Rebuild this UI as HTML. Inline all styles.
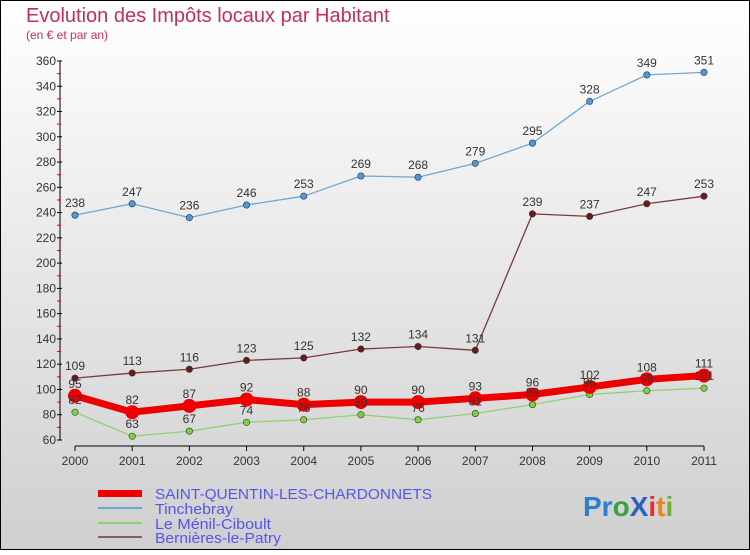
<!DOCTYPE html>
<html><head><meta charset="utf-8"><style>
html,body{margin:0;padding:0;}
body{width:750px;height:550px;overflow:hidden;font-family:"Liberation Sans",sans-serif;}
</style></head><body>
<svg id="chart" width="750" height="550" xmlns="http://www.w3.org/2000/svg" font-family="Liberation Sans, sans-serif">
<defs><linearGradient id="bg" x1="0" y1="0" x2="0" y2="1"><stop offset="0" stop-color="#ffffff"/><stop offset="1" stop-color="#cfcfcf"/></linearGradient></defs>
<rect x="0.5" y="0.5" width="749" height="549" fill="url(#bg)" stroke="#000"/>
<text x="26" y="22" font-size="20" fill="#c0305a">Evolution des Impôts locaux par Habitant</text>
<text x="26" y="39" font-size="12" fill="#c0305a">(en € et par an)</text>
<g id="axes"></g><g id="series"></g><g id="labels"></g>
<g font-size="15" fill="#5555ee">
<rect x="98" y="490" width="44" height="7" fill="#ee0000"/>
<text x="155" y="499" textLength="277" lengthAdjust="spacingAndGlyphs">SAINT-QUENTIN-LES-CHARDONNETS</text>
<rect x="98" y="507" width="44" height="2" fill="#6fa8d0"/>
<text x="155" y="514" textLength="78" lengthAdjust="spacingAndGlyphs">Tinchebray</text>
<rect x="98" y="522" width="44" height="2" fill="#90d070"/>
<text x="155" y="529" textLength="116" lengthAdjust="spacingAndGlyphs">Le Ménil-Ciboult</text>
<rect x="98" y="536" width="44" height="2" fill="#8a5a5a"/>
<text x="155" y="543" textLength="126" lengthAdjust="spacingAndGlyphs">Bernières-le-Patry</text>
</g>
<g font-size="28" font-weight="bold">
<text x="583" y="516"><tspan fill="#2a7fd0">Pr</tspan><tspan fill="#3aa040">o</tspan><tspan fill="#2a60c0">X</tspan><tspan fill="#e03030">i</tspan><tspan fill="#f08020">t</tspan><tspan fill="#70b030">i</tspan></text>
</g>
</svg>
<script>
const years=["2000","2001","2002","2003","2004","2005","2006","2007","2008","2009","2010","2011"];
const yTicks=[60,80,100,120,140,160,180,200,220,240,260,280,300,320,340,360];
const stQuentin=[95,82,87,92,88,90,90,93,96,102,108,111];
const tinchebray=[238,247,236,246,253,269,268,279,295,328,349,351];
const menil=[82,63,67,74,76,80,76,81,88,96,99,101];
const bernieres=[109,113,116,123,125,132,134,131,239,237,247,253];
const NS="http://www.w3.org/2000/svg";
function X(i){return 75+i*(704-75)/11;}
function Y(v){return 440-(v-60)*(440-61)/300;}
function mk(tag,attrs,parent,txt){const e=document.createElementNS(NS,tag);for(const k in attrs)e.setAttribute(k,attrs[k]);if(txt!==undefined)e.textContent=txt;parent.appendChild(e);return e;}
const ax=document.getElementById('axes');
let a=mk('line',{x1:60,y1:61,x2:60,y2:440,stroke:'#000'},ax);


a=mk('line',{x1:75,y1:446,x2:704,y2:446,stroke:'#000'},ax);


yTicks.forEach((v,i)=>{
 const t=mk('text',{x:56,y:Y(v)+4,'font-size':12,fill:'#333','text-anchor':'end'},ax,String(v));
 
 
 mk('line',{x1:57,y1:Y(v),x2:62,y2:Y(v),stroke:'#000'},ax);
 if(i<yTicks.length-1){mk('line',{x1:57,y1:Y(v+10),x2:61,y2:Y(v+10),stroke:'#e00000'},ax);}
});
years.forEach((y,i)=>{
 mk('line',{x1:X(i),y1:446,x2:X(i),y2:451,stroke:'#000'},ax);
 const t=mk('text',{x:X(i),y:465,'font-size':12,fill:'#333','text-anchor':'middle'},ax,y);
 
 
});
const sg=document.getElementById('series'),lg=document.getElementById('labels');
function draw(data,name,color,dot,w,r){
 const g=mk('g',{},sg);
 
 
 const p=mk('polyline',{points:data.map((v,i)=>X(i)+','+Y(v)).join(' '),fill:'none',stroke:color,'stroke-width':w,'stroke-linejoin':'round'},g);
 
 
 data.forEach((v,i)=>{
  const c=mk('circle',{cx:X(i),cy:Y(v),r:r,fill:dot,stroke:'#333','stroke-width':r>5?0:0.6},g);
  
  
  const t=mk('text',{x:X(i),y:Y(v)-8,'font-size':12,fill:'#333','text-anchor':'middle'},lg,String(v));
  
  
 });
}
draw(tinchebray,'tinchebray','#6fa8d0','#4a9ae0',1.3,3.2);
draw(bernieres,'bernieres','#7a3a3a','#6a1a1a',1.3,3.2);
draw(menil,'menil-ciboult','#90d070','#80d040',1.3,3.2);
draw(stQuentin,'saint-quentin','#ee0000','#ee0000',7,7);
</script>
</body></html>
